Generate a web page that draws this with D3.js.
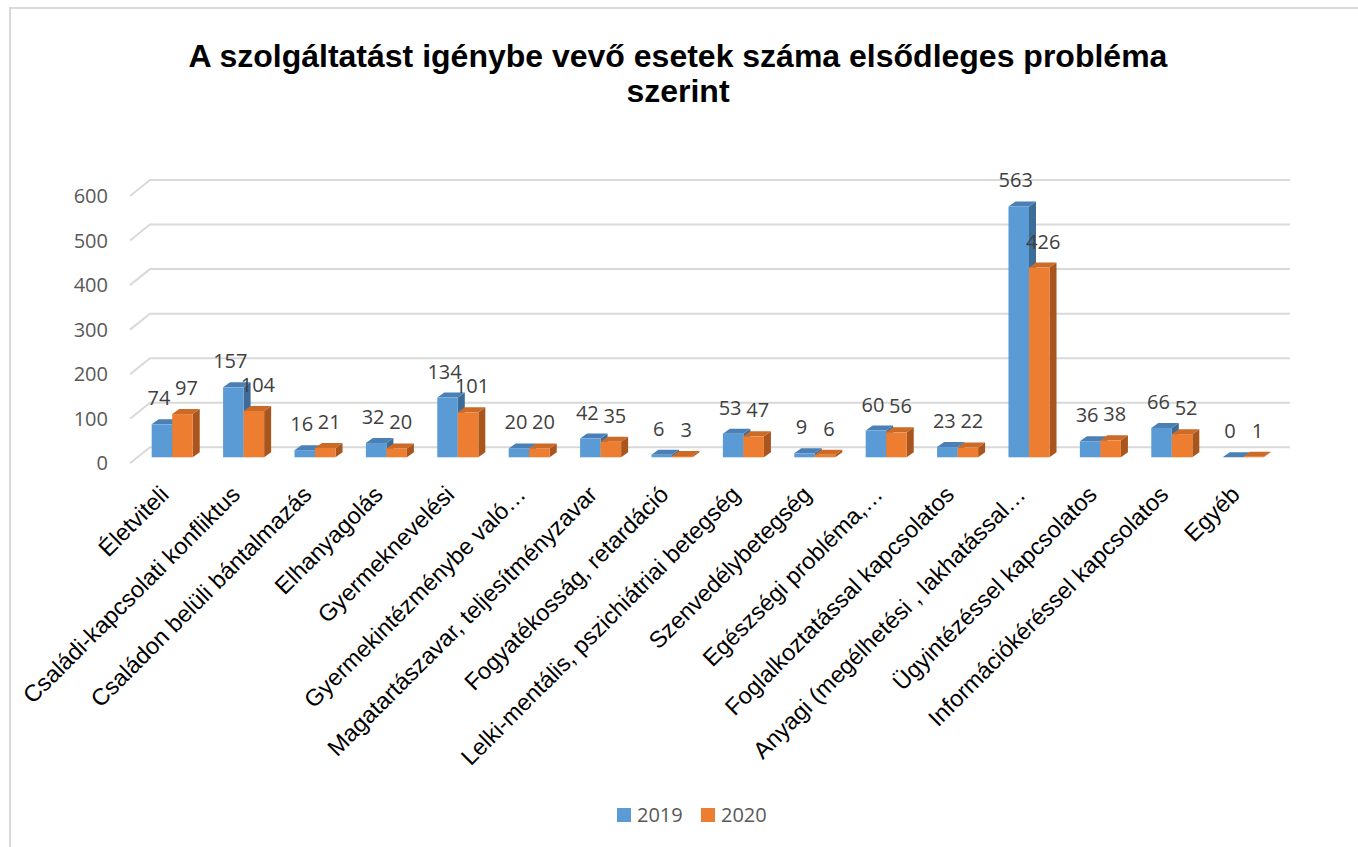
<!DOCTYPE html>
<html>
<head>
<meta charset="utf-8">
<script src="https://cdn.jsdelivr.net/npm/d3@7"></script>
<style>
  html, body { margin: 0; padding: 0; background: #fff; }
  svg { display: block; }
</style>
</head>
<body>
<svg id="chart" width="1358" height="847"></svg>
<script>
const categories = [
  "Életviteli",
  "Családi-kapcsolati konfliktus",
  "Családon belüli bántalmazás",
  "Elhanyagolás",
  "Gyermeknevelési",
  "Gyermekintézménybe való…",
  "Magatartászavar, teljesítményzavar",
  "Fogyatékosság, retardáció",
  "Lelki-mentális, pszichiátriai betegség",
  "Szenvedélybetegség",
  "Egészségi probléma,…",
  "Foglalkoztatással kapcsolatos",
  "Anyagi (megélhetési , lakhatással…",
  "Ügyintézéssel kapcsolatos",
  "Információkéréssel kapcsolatos",
  "Egyéb"
];
const values2019 = [74, 157, 16, 32, 134, 20, 42, 6, 53, 9, 60, 23, 563, 36, 66, 0];
const values2020 = [97, 104, 21, 20, 101, 20, 35, 3, 47, 6, 56, 22, 426, 38, 52, 1];
const seriesNames = ["2019", "2020"];
const yTicks = [0, 100, 200, 300, 400, 500, 600];
const titleLines = ["A szolgáltatást igénybe vevő esetek száma elsődleges probléma", "szerint"];

const colors = {
  "2019": { front: "#5B9BD5", top: "#4A80B6", side: "#3D6C99" },
  "2020": { front: "#ED7D31", top: "#CC6A28", side: "#A9561E" }
};

const svg = d3.select("#chart");

// chart frame
svg.append("rect").attr("x", 10).attr("y", 8).attr("width", 1400).attr("height", 900)
  .attr("fill", "#fff").attr("stroke", "#D9D9D9").attr("stroke-width", 2);

// title
svg.append("g").selectAll("text").data(titleLines).join("text")
  .attr("x", 678).attr("y", (d, i) => 67 + i * 35)
  .attr("text-anchor", "middle")
  .attr("font-family", "'Liberation Sans', Arial, sans-serif")
  .attr("font-weight", "bold").attr("font-size", 32).attr("fill", "#000")
  .text(d => d);

// scales
const backY = d3.scaleLinear().domain([0, 600]).range([447.3, 180]);
const frontDX = -20, frontDY = 16;        // front edge of floor relative to back wall
const barY = d3.scaleLinear().domain([0, 600]).range([457.3, 190]);
const depthDX = 7, depthDY = -5;          // bar depth projection
const wallLeft = 150, wallRight = 1290;

const x = d3.scaleBand().domain(categories).range([136.5, 1278.9]).padding(0);
const groupW = x.bandwidth() * 0.575;
const xs = d3.scaleBand().domain(seriesNames).range([0, groupW]).padding(0);

// gridlines
const grid = svg.append("g");
yTicks.forEach(t => {
  const yb = backY(t);
  grid.append("path")
    .attr("d", `M${wallLeft + frontDX},${yb + frontDY}L${wallLeft},${yb}L${wallRight},${yb}`)
    .attr("fill", "none").attr("stroke", "#D9D9D9").attr("stroke-width", 2);
});

// y axis labels
svg.append("g").selectAll("text").data(yTicks).join("text")
  .attr("x", 108).attr("y", d => backY(d) + frontDY)
  .attr("dy", "0.35em").attr("text-anchor", "end")
  .attr("font-family", "'Open Sans', sans-serif").attr("font-size", 20).attr("fill", "#595959")
  .text(d => d);

// bars
const data = categories.map((c, i) => ({ cat: c, vals: [
  { s: "2019", v: values2019[i] }, { s: "2020", v: values2020[i] }
]}));

const bars = svg.append("g");
data.forEach(d => {
  const g0 = x(d.cat) + (x.bandwidth() - groupW) / 2;
  d.vals.forEach(b => {
    const bx = g0 + xs(b.s), bw = xs.bandwidth();
    const yt = barY(b.v), yb = barY(0);
    const c = colors[b.s];
    const g = bars.append("g");
    g.append("path")
      .attr("d", `M${bx + bw},${yt}L${bx + bw + depthDX},${yt + depthDY}L${bx + bw + depthDX},${yb + depthDY}L${bx + bw},${yb}Z`)
      .attr("fill", c.side);
    g.append("path")
      .attr("d", `M${bx},${yt}L${bx + depthDX},${yt + depthDY}L${bx + bw + depthDX},${yt + depthDY}L${bx + bw},${yt}Z`)
      .attr("fill", c.top);
    g.append("rect").attr("x", bx).attr("y", yt).attr("width", bw).attr("height", yb - yt)
      .attr("fill", c.front);
  });
});

// value labels
const labels = svg.append("g");
data.forEach(d => {
  const g0 = x(d.cat) + (x.bandwidth() - groupW) / 2;
  d.vals.forEach((b, j) => {
    const cx = g0 + xs(b.s) + xs.bandwidth() / 2 + (j === 0 ? -3 : 4);
    labels.append("text")
      .attr("x", cx).attr("y", barY(b.v) - 19)
      .attr("text-anchor", "middle")
      .attr("font-family", "'Open Sans', sans-serif").attr("font-size", 20).attr("fill", "#404040")
      .text(b.v);
  });
});

// category labels
svg.append("g").selectAll("text").data(categories).join("text")
  .attr("transform", d => `translate(${x(d) + x.bandwidth() / 2 - 2},${496}) rotate(-45)`)
  .attr("text-anchor", "end")
  .attr("font-family", "'Liberation Sans', Arial, sans-serif").attr("font-size", 23.5).attr("fill", "#000")
  .text(d => d);

// legend
const legend = svg.append("g").attr("transform", "translate(617,808)");
seriesNames.forEach((s, i) => {
  const lg = legend.append("g").attr("transform", `translate(${i * 84},0)`);
  lg.append("rect").attr("width", 14).attr("height", 14).attr("fill", colors[s].front);
  lg.append("text").attr("x", 20).attr("y", 7).attr("dy", "0.35em")
    .attr("font-family", "'Open Sans', sans-serif").attr("font-size", 20).attr("fill", "#595959")
    .text(s);
});
</script>
</body>
</html>
